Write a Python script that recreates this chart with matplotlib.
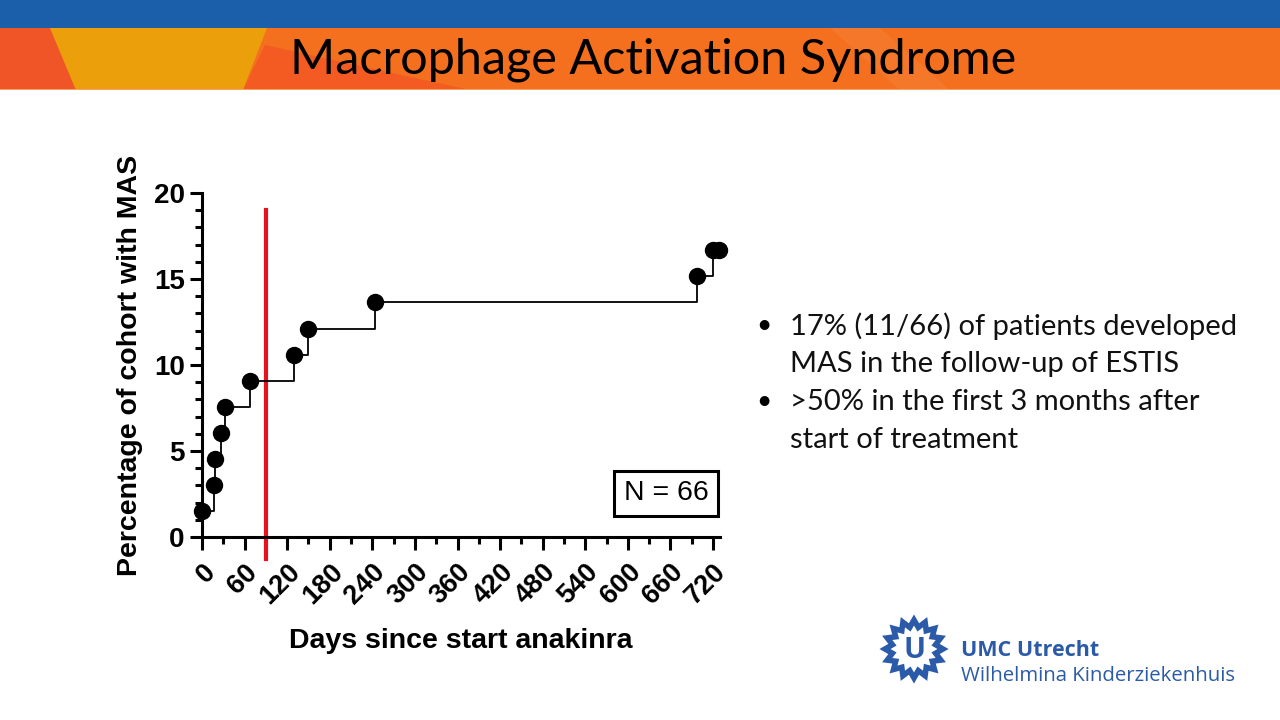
import numpy as np
import matplotlib
matplotlib.use("Agg")
import matplotlib.pyplot as plt
from matplotlib.patches import Polygon, Rectangle

# data
days = [0, 17, 19, 27, 33, 67, 129, 149, 244, 697, 720, 729]
pct_mas = [1.52, 3.03, 4.55, 6.06, 7.58, 9.09, 10.61, 12.12, 13.64, 15.15, 16.67, 16.67]
day_ticks = list(range(0, 721, 60))
pct_ticks = [0, 5, 10, 15, 20]
cutoff_day = 90
n_patients = 66

title = "Macrophage Activation Syndrome"
bullets = [["17% (11/66) of patients developed", "MAS in the follow-up of ESTIS"],
           [">50% in the first 3 months after", "start of treatment"]]

plt.rcParams['font.family'] = ['Liberation Sans', 'DejaVu Sans']

fig = plt.figure(figsize=(12.8, 7.2), dpi=100)

# slide background drawn in pixel coordinates
bg = fig.add_axes([0, 0, 1, 1])
bg.set_xlim(0, 1280)
bg.set_ylim(720, 0)
bg.axis('off')

bg.add_patch(Rectangle((0, 0), 1280, 28, color="#1b5fab", lw=0))
bg.add_patch(Rectangle((0, 28), 1280, 62, color="#f4701f", lw=0))
bg.add_patch(Polygon([(0, 28), (50, 28), (76, 90), (0, 90)], color="#f05528", lw=0))
bg.add_patch(Polygon([(265, 45), (243, 90), (470, 90)], color="#f35b22", lw=0))
bg.add_patch(Polygon([(50, 28), (267, 28), (243, 90), (76, 90)], color="#eb9f0b", lw=0))
bg.add_patch(Polygon([(830, 28), (880, 28), (950, 90), (900, 90)], color="#f5782a", lw=0))
bg.add_patch(Rectangle((0, 88.5), 1280, 1.5, color="#f8a060", lw=0))

bg.text(653, 60, title, fontsize=35, family="Lato", ha="center", va="center", color="black")

# bullet text
y = 326
for lines in bullets:
    bg.text(764, y, "\u2022", fontsize=19, family="Lato", ha="center", va="center")
    for line in lines:
        bg.text(790, y, line, fontsize=21, family="Lato", ha="left", va="center", color="#111111")
        y += 38

# UMC logo
cx, cy = 914, 649
n_rays = 16
ang = np.linspace(0, 2 * np.pi, 2 * n_rays, endpoint=False) - np.pi / 2
rad = np.where(np.arange(2 * n_rays) % 2 == 0, 29, 22)
star = np.column_stack([cx + rad * np.cos(ang), cy + rad * np.sin(ang)])
bg.add_patch(Polygon(star, closed=True, fill=False, ec="#2b5ba8", lw=4, joinstyle="miter"))
bg.text(cx, cy + 1, "U", fontsize=21, weight="bold", family="Open Sans", color="#2b5ba8",
        ha="center", va="center")
bg.text(961, 651, "UMC Utrecht", fontsize=15.5, weight="bold", family="Open Sans",
        color="#2b5ba8", ha="left", va="center")
bg.text(961, 676, "Wilhelmina Kinderziekenhuis", fontsize=14.7, family="Open Sans",
        color="#2b5ba8", ha="left", va="center")

# chart
ax = fig.add_axes([0.15781, 0.25417, 0.40477, 0.47778])
ax.patch.set_alpha(0)
ax.step(days, pct_mas, where="post", color="black", lw=1.3, zorder=3)
ax.plot(days, pct_mas, "o", color="black", ms=11.5, zorder=4, clip_on=False)
ax.plot([cutoff_day, cutoff_day], [-1.3, 19.0], color="#e3141b", lw=3, zorder=2, clip_on=False)

ax.set_xlim(0, 730)
ax.set_ylim(0, 20)
ax.spines['top'].set_visible(False)
ax.spines['right'].set_visible(False)
ax.spines['left'].set_linewidth(2.2)
ax.spines['bottom'].set_linewidth(2.2)
ax.spines['left'].set_bounds(0, 20)

ax.set_xticks(day_ticks)
ax.set_xticks(list(range(30, 721, 60)), minor=True)
ax.set_yticks(pct_ticks)
ax.set_yticks(list(range(0, 21)), minor=True)
ax.tick_params(which="major", length=9, width=2.2, labelsize=20)
ax.tick_params(axis="x", which="major", labelsize=19.5, pad=7)
ax.tick_params(which="minor", length=5, width=2.2)
ax.set_xticklabels([str(d) for d in day_ticks], rotation=45, ha="right",
                   rotation_mode="anchor", fontweight="bold")
for lbl in ax.get_yticklabels():
    lbl.set_fontweight("bold")

ax.set_xlabel("Days since start anakinra", fontsize=20.5, fontweight="bold", labelpad=13)
ax.set_ylabel("Percentage of cohort with MAS", fontsize=20.5, fontweight="bold", labelpad=8)

ax.text(654, 2.55, f"N = {n_patients}", fontsize=20.5, ha="center", va="center",
        bbox=dict(boxstyle="square,pad=0.33", fc="white", ec="black", lw=2.2))

fig.savefig("out.png", dpi=100)
